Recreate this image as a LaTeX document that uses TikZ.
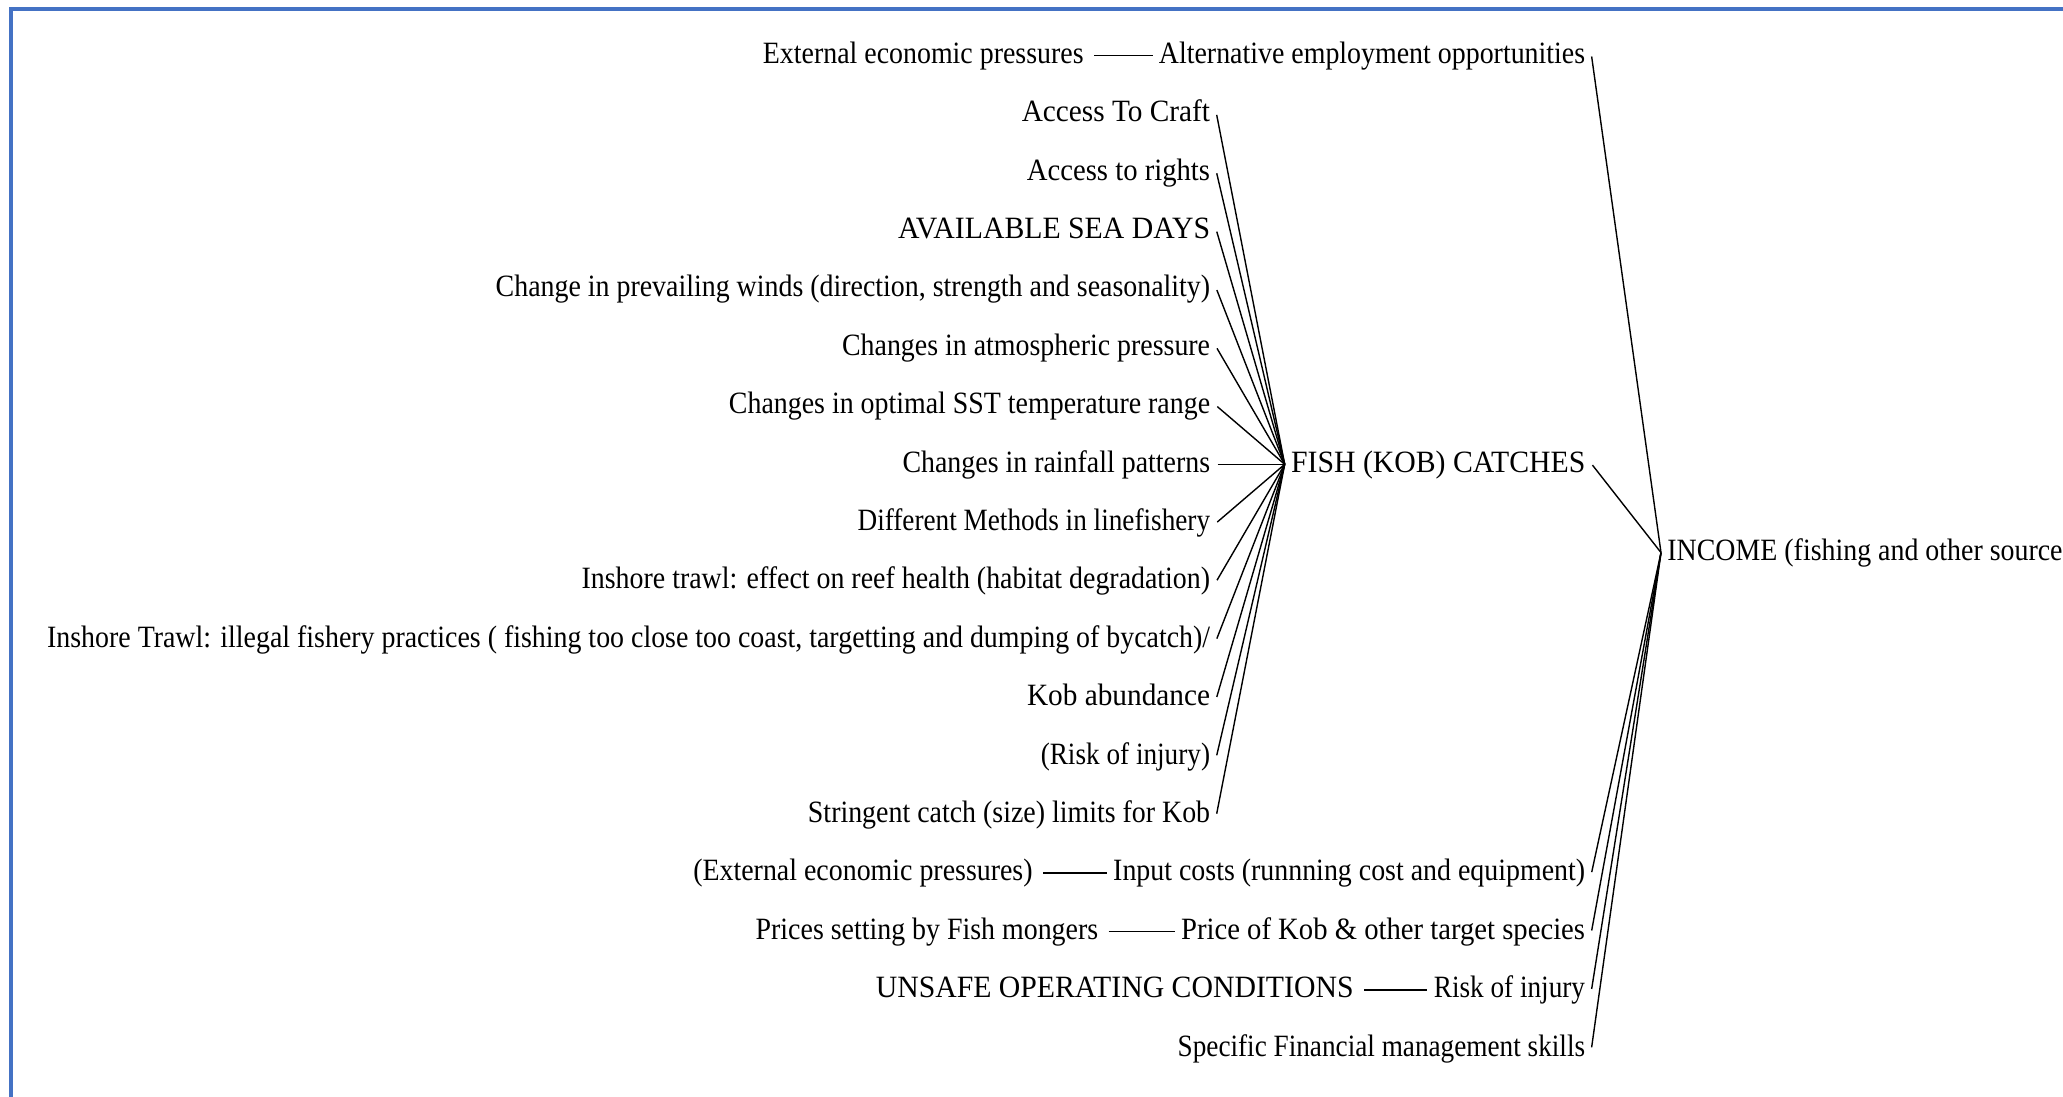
\documentclass[tikz,border=0pt]{standalone}
\usepackage{fontspec}
\setmainfont[FakeStretch=0.9]{Liberation Serif}
\newfontfamily\capsfont[FakeStretch=0.96]{Liberation Serif}
\newfontfamily\wideA[FakeStretch=0.945]{Liberation Serif}
\newfontfamily\wideB[FakeStretch=0.925]{Liberation Serif}
\newfontfamily\narrowA[FakeStretch=0.878]{Liberation Serif}
\definecolor{frameblue}{HTML}{4472C4}
\begin{document}
\begin{tikzpicture}[x=0.5pt,y=-0.5pt,
  lbl/.style={inner sep=3pt, font=\fontsize{15.5}{18}\selectfont, text height=0.774em, text depth=0pt},
  lft/.style={lbl, anchor=east},
  rgt/.style={lbl, anchor=west},
  conn/.style={line width=0.7pt, black, shorten <=0.5pt},
  hconn/.style={line width=0.7pt, black, shorten <=2pt}]
\useasboundingbox (0,0) rectangle (2063,1097);
\clip (0,0) rectangle (2063,1097);
\draw[frameblue, line width=2.2pt] (11,1200) -- (11,9) -- (2200,9);
% left column
\node[lft] (ac) at (1216.5,113.9) {\wideA Access To Craft};
\node[lft] (ar) at (1216.5,172.3) {\wideB Access to rights};
\node[lft] (asd) at (1216.5,230.7) {\capsfont AVAILABLE SEA DAYS};
\node[lft] (cpw) at (1216.5,289.1) {Change in prevailing winds (direction, strength and seasonality)};
\node[lft] (cap) at (1216.5,347.5) {Changes in atmospheric pressure};
\node[lft] (sst) at (1216.5,405.9) {Changes in optimal SST temperature range};
\node[lft] (crp) at (1216.5,464.3) {Changes in rainfall patterns};
\node[lft] (dml) at (1216.5,522.7) {\narrowA Different Methods in linefishery};
\node[lft] (itr) at (1216.5,581.1) {Inshore trawl: effect on reef health (habitat degradation)};
\node[lft] (iti) at (1216.5,639.5) {Inshore Trawl: illegal fishery practices ( fishing too close too coast, targetting and dumping of bycatch)/};
\node[lft] (kob) at (1216.5,697.9) {\wideA Kob abundance};
\node[lft] (rin) at (1216.5,756.3) {\narrowA (Risk of injury)};
\node[lft] (scl) at (1216.5,814.7) {Stringent catch (size) limits for Kob};
% centre
\node[rgt] (fish) at (1284.7,464.3) {\capsfont FISH (KOB) CATCHES};
% right column
\node[lft] (aeo) at (1591.5,55.5) {Alternative employment opportunities};
\node[lft] (inp) at (1591.5,873.1) {Input costs (runnning cost and equipment)};
\node[lft] (pok) at (1591.5,931.5) {\wideB Price of Kob \& other target species};
\node[lft] (rio) at (1591.5,989.9) {\narrowA Risk of injury};
\node[lft] (sfm) at (1591.5,1048.3) {\narrowA Specific Financial management skills};
% far left drivers
\node[lft] (eep) at (1090,55.5) {External economic pressures};
\node[lft] (eep2) at (1039,873.1) {(External economic pressures)};
\node[lft] (psf) at (1104.6,931.5) {Prices setting by Fish mongers};
\node[lft] (uoc) at (1360,989.9) {\capsfont UNSAFE OPERATING CONDITIONS};
% income
\node[rgt] (inc) at (1661,552.6) {INCOME (fishing and other sources)};
% connectors
\foreach \n in {ac,ar,asd,cpw,cap,sst,crp,dml,itr,iti,kob,rin,scl}
  \draw[conn] (\n.east) -- (fish.west);
\foreach \n in {aeo,inp,pok,rio,sfm}
  \draw[conn] (\n.east) -- (inc.west);
\draw[conn] (fish.east) -- (inc.west);
\draw[hconn] (eep.east) -- (aeo.west);
\draw[hconn] (eep2.east) -- (inp.west);
\draw[hconn] (psf.east) -- (pok.west);
\draw[hconn] (uoc.east) -- (rio.west);
\end{tikzpicture}
\end{document}
